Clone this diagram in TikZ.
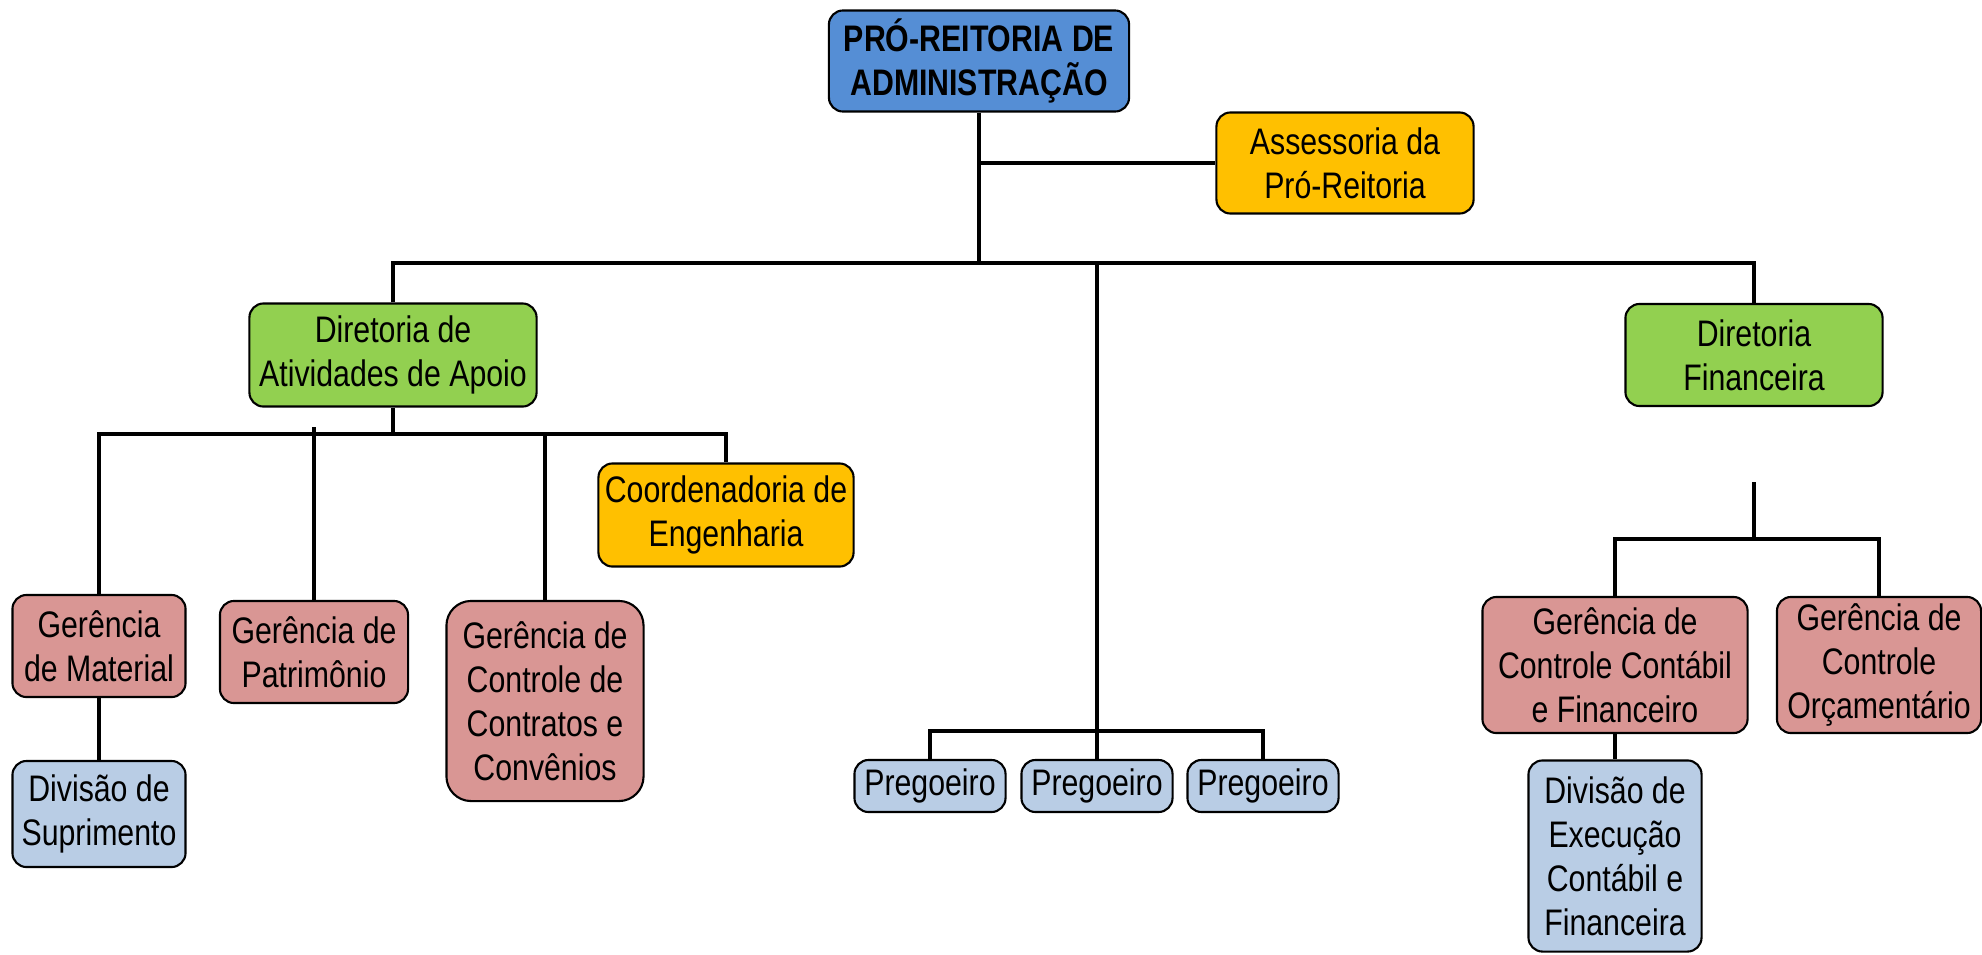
\documentclass[tikz,border=0pt]{standalone}
\usepackage{fontspec}
\setmainfont{Liberation Sans}[FakeStretch=0.82]
\usetikzlibrary{positioning}

\definecolor{prablue}{RGB}{85,142,213}
\definecolor{assorange}{RGB}{255,192,0}
\definecolor{dirgreen}{RGB}{146,208,80}
\definecolor{gerpink}{RGB}{217,150,148}
\definecolor{divblue}{RGB}{185,205,229}

\begin{document}
\begin{tikzpicture}
  [x=0.01cm,y=-0.01cm,
   every node/.style={draw,line width=0.6pt,rounded corners=4pt,align=center,inner sep=1pt,
     font=\fontsize{10.5}{12.5}\selectfont},
   orgbox/.style={minimum width=#1},
   link/.style={line width=1.2pt}]
  \useasboundingbox (0,0) rectangle (1982,954);
  \node[fill=prablue,orgbox=3.00cm,minimum height=1.01cm,font=\fontsize{10.5}{12.5}\selectfont\bfseries]
    (pra) at (979,61) {PRÓ-REITORIA DE\\ADMINISTRAÇÃO};
  \node[fill=assorange,orgbox=2.57cm,minimum height=1.01cm] (ass) at (1345,163) {Assessoria da\\Pró-Reitoria};
  \node[fill=dirgreen,orgbox=2.87cm,minimum height=1.03cm] (dap) at (393,355) {Diretoria de\\Atividades de Apoio};
  \node[fill=dirgreen,orgbox=2.57cm,minimum height=1.02cm] (dfin) at (1754,355) {Diretoria\\Financeira};
  \node[fill=assorange,orgbox=2.55cm,minimum height=1.03cm] (coord) at (726,515) {Coordenadoria de\\Engenharia};
  \node[fill=gerpink,orgbox=1.73cm,minimum height=1.02cm] (gmat) at (99,646) {Gerência\\de Material};
  \node[fill=gerpink,orgbox=1.88cm,minimum height=1.02cm] (gpat) at (314,652) {Gerência de\\Patrimônio};
  \node[fill=gerpink,orgbox=1.97cm,minimum height=2.00cm,rounded corners=7pt] (gcon) at (545,701)
    {Gerência de\\Controle de\\Contratos e\\Convênios};
  \node[fill=divblue,orgbox=1.73cm,minimum height=1.06cm] (dsup) at (99,814) {Divisão de\\Suprimento};
  \node[fill=divblue,orgbox=1.51cm,minimum height=0.52cm] (preg1) at (930,786) {Pregoeiro};
  \node[fill=divblue,orgbox=1.51cm,minimum height=0.52cm] (preg2) at (1097,786) {Pregoeiro};
  \node[fill=divblue,orgbox=1.51cm,minimum height=0.52cm] (preg3) at (1263,786) {Pregoeiro};
  \node[fill=gerpink,orgbox=2.65cm,minimum height=1.36cm] (gcc) at (1615,665)
    {Gerência de\\Controle Contábil\\e Financeiro};
  \node[fill=gerpink,orgbox=2.04cm,minimum height=1.36cm] (gco) at (1879,665)
    {Gerência de\\Controle\\Orçamentário};
  \node[fill=divblue,orgbox=1.73cm,minimum height=1.91cm] (dexe) at (1615,856)
    {Divisão de\\Execução\\Contábil e\\Financeira};

  \coordinate (bus1) at (1097,263);
  \coordinate (bus2) at (393,434);
  \coordinate (bus3) at (1097,731);
  \coordinate (fintop) at (1754,482);
  \coordinate (bus4) at (1754,539);

  \draw[link] (pra.south) -- (pra.south |- bus1);
  \draw[link] (pra.south |- ass.west) -- (ass.west);
  \draw[link] (dap.north) |- (bus1) -| (dfin.north);
  \draw[link] (bus1) -- (preg2.north);
  \draw[link] (preg1.north) |- (bus3) -| (preg3.north);
  \draw[link] (dap.south) -- (bus2);
  \draw[link] (gmat.north) |- (bus2) -| (coord.north);
  \draw[link] (gpat.north) -- ([yshift=2pt]gpat.north |- bus2);
  \draw[link] (gcon.north) -- (gcon.north |- bus2);
  \draw[link] (gmat) -- (dsup);
  \draw[link] (fintop) -- (bus4);
  \draw[link] (gcc.north) |- (bus4) -| (gco.north);
  \draw[link] (gcc) -- (dexe);
\end{tikzpicture}
\end{document}
